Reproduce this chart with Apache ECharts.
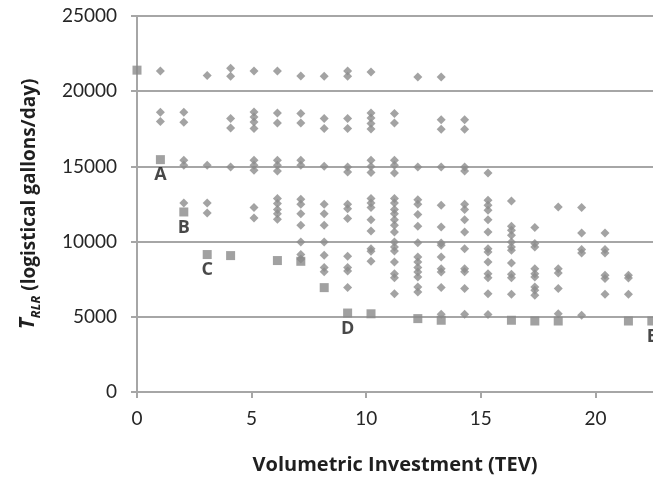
<!DOCTYPE html>
<html>
<head>
<meta charset="utf-8">
<script src="https://cdn.jsdelivr.net/npm/echarts@6/dist/echarts.min.js"></script>
<style>
html,body{margin:0;padding:0;background:#fff;}
#chart{width:653px;height:480px;}
</style>
</head>
<body>
<div id="chart"></div>
<script>
// ---- data ----
var columnX = [1, 2, 3, 4, 5, 6, 7, 8, 9, 10, 11, 12, 13, 14, 15, 16, 17, 18, 19, 20, 21];
var columnValues = [
  [21350, 18600, 17980],
  [18600, 17940, 15410, 15080, 12570],
  [21040, 15080, 12570, 11900],
  [21530, 21000, 18180, 17560, 14960],
  [21350, 18620, 18290, 17960, 17520, 15410, 15080, 14740, 12260, 11570],
  [21350, 18550, 17890, 15410, 15080, 14700, 12860, 12530, 12130, 11860, 11480],
  [21010, 18510, 17890, 15410, 15080, 12810, 12480, 11860, 11080, 9970, 9150, 8850],
  [20990, 18180, 17520, 15010, 12480, 11860, 11080, 9970, 9090, 8270, 8000],
  [21350, 20990, 18180, 17520, 14960, 14630, 12480, 12190, 11530, 9020, 8270, 8040, 6940],
  [21280, 18550, 18220, 17850, 17480, 15410, 15000, 14600, 12860, 12570, 12260, 11460, 10700, 9530, 9360, 8700],
  [18510, 17890, 15410, 15080, 14560, 12860, 12570, 12130, 11860, 11460, 11080, 10640, 9970, 9640, 9380, 8640, 7870, 7600, 6540],
  [20950, 14960, 12790, 12480, 11810, 11020, 9930, 8980, 8640, 8270, 7980, 7650, 6980, 6650],
  [20950, 18110, 17470, 14960, 12410, 10970, 9910, 9760, 8980, 8200, 7980, 6940, 5170],
  [18110, 17470, 14960, 14700, 12480, 12130, 11460, 10640, 9530, 8200, 8000, 6880, 5170],
  [14560, 12750, 12410, 12080, 11460, 10640, 9530, 9310, 8640, 7870, 7600, 6540, 5150],
  [12700, 11020, 10750, 10420, 9970, 9640, 9420, 8580, 7830, 7600, 6500],
  [10930, 9870, 9640, 8200, 7870, 7650, 6980, 6760, 6430],
  [12300, 8200, 7910, 6880, 5210],
  [12260, 10580, 9470, 9240, 5100],
  [10580, 9470, 9240, 7760, 7540, 6500],
  [7760, 7580, 6500]
];
var frontierX = [0, 1, 2, 3, 4, 6, 7, 8, 9, 10, 12, 13, 16, 17, 18, 21, 22];
var frontierY = [21400, 15450, 11970, 9140, 9070, 8740, 8690, 6940, 5250, 5200, 4880, 4770, 4770, 4720, 4720, 4720, 4720];
var frontierLabels = ['', 'A', 'B', 'C', '', '', '', '', 'D', '', '', '', '', '', '', '', 'E'];
var xTicks = [0, 5, 10, 15, 20];
var yTicks = [0, 5000, 10000, 15000, 20000, 25000];

// ---- build series data ----
var diamondData = [];
columnX.forEach(function (x, i) {
  columnValues[i].forEach(function (v) { diamondData.push([x, v]); });
});
var squareData = frontierX.map(function (x, i) { return [x, frontierY[i], frontierLabels[i]]; });

var FONT = 'Lato, "Open Sans", sans-serif';
var BOLD = '"Open Sans", Lato, sans-serif';
var GRID = '#a6a6a6';

var chart = echarts.init(document.getElementById('chart'), null, {renderer: 'canvas'});
chart.setOption({
  animation: false,
  backgroundColor: '#ffffff',
  grid: {left: 137, top: 16, right: 0, bottom: 88, containLabel: false},
  xAxis: [{
    type: 'value',
    min: xTicks[0],
    max: 22.51,
    interval: 5,
    axisLine: {show: true, lineStyle: {color: GRID, width: 2}},
    axisTick: {show: true, length: 6, lineStyle: {color: GRID, width: 2}},
    splitLine: {show: false},
    axisLabel: {
      margin: 17, fontFamily: FONT, fontSize: 19, color: '#262626',
      showMaxLabel: false,
      formatter: function (v) { return xTicks.indexOf(v) >= 0 ? String(v) : ''; }
    },
    name: 'Volumetric Investment (TEV)',
    nameLocation: 'middle',
    nameGap: 63,
    nameTextStyle: {fontFamily: BOLD, fontSize: 20, fontWeight: 'bold', color: '#1f1f1f'}
  }, {
    type: 'value',
    show: false,
    min: 0,
    max: 22.05
  }],
  yAxis: {
    type: 'value',
    min: yTicks[0],
    max: yTicks[yTicks.length - 1],
    interval: 5000,
    axisLine: {show: true, lineStyle: {color: GRID, width: 2}},
    axisTick: {show: true, length: 6, lineStyle: {color: GRID, width: 2}},
    splitLine: {show: true, lineStyle: {color: GRID, width: 2}},
    axisLabel: {
      margin: 20, fontFamily: FONT, fontSize: 19, color: '#262626',
      formatter: function (v) { return String(v); }
    },
    name: '{t|T}{s|RLR}{n| (logistical gallons/day)}',
    nameLocation: 'middle',
    nameGap: 98,
    nameRotate: 90,
    nameTextStyle: {
      rich: {
        t: {fontFamily: BOLD, fontSize: 21, fontWeight: 'bold', fontStyle: 'italic', color: '#1f1f1f', verticalAlign: 'bottom'},
        s: {fontFamily: BOLD, fontSize: 13, fontWeight: 'bold', fontStyle: 'italic', color: '#1f1f1f', verticalAlign: 'bottom', padding: [0, 0, -4, 0]},
        n: {fontFamily: BOLD, fontSize: 19, fontWeight: 'bold', color: '#1f1f1f', verticalAlign: 'bottom'}
      }
    }
  },
  series: [{
    type: 'scatter',
    xAxisIndex: 1,
    symbol: 'diamond',
    symbolSize: 9,
    itemStyle: {color: '#8c8c8c'},
    data: diamondData,
    clip: false,
    z: 2
  }, {
    type: 'scatter',
    xAxisIndex: 1,
    symbol: 'rect',
    symbolSize: 9,
    itemStyle: {color: '#898989'},
    data: squareData,
    clip: false,
    z: 3,
    label: {
      show: true,
      position: 'bottom',
      distance: 2,
      fontFamily: BOLD,
      fontSize: 18,
      fontWeight: 'bold',
      color: '#1a1a1a',
      formatter: function (p) { return p.data[2]; }
    }
  }]
});
</script>
</body>
</html>
